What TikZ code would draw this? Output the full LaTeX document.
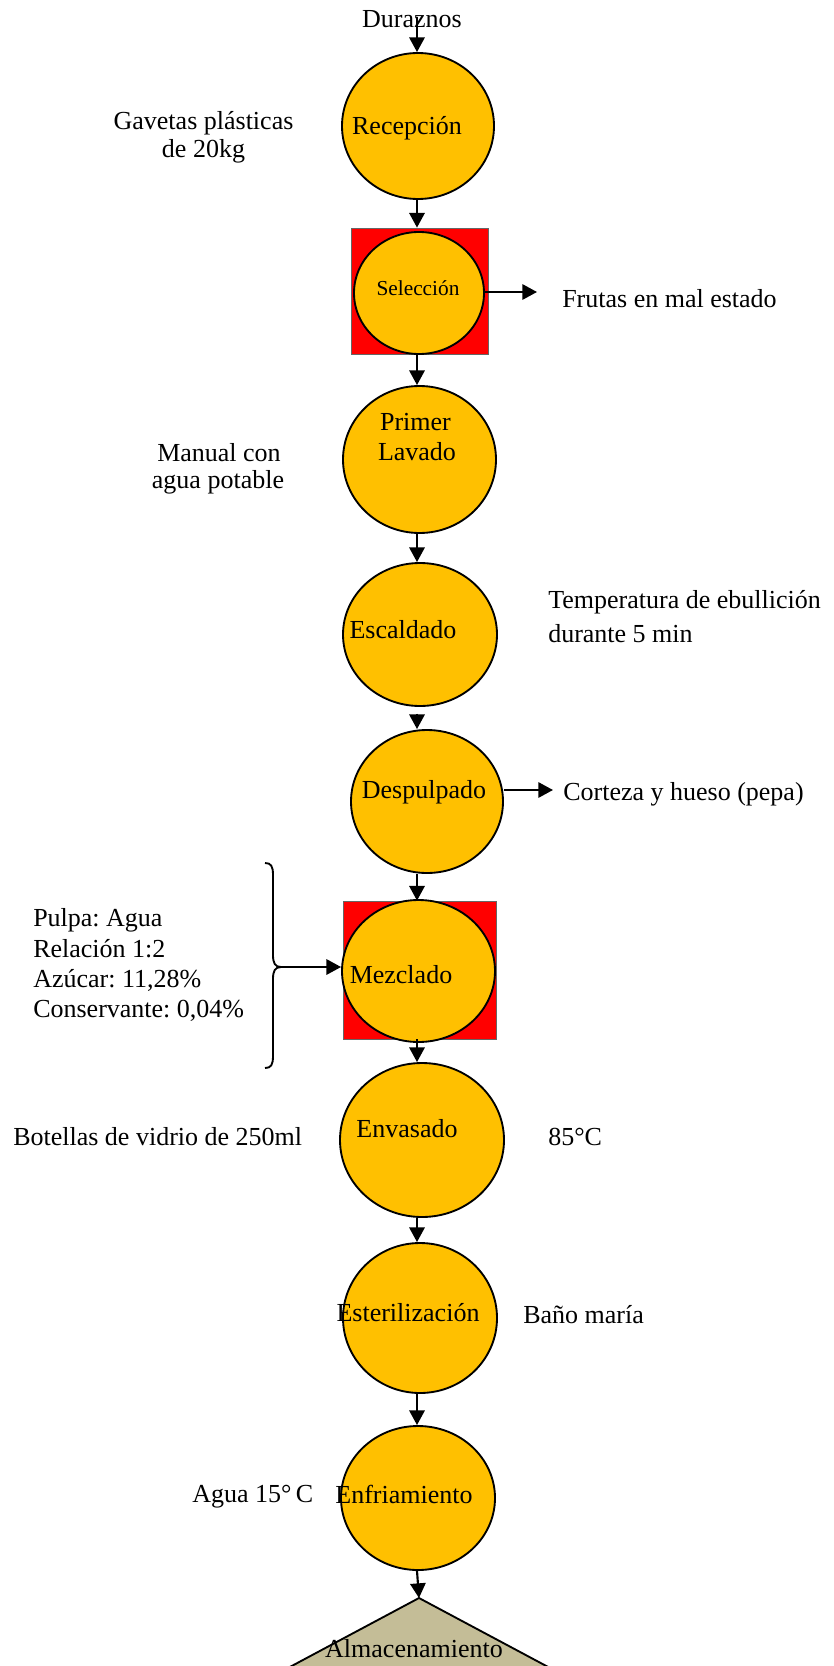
\documentclass[tikz,border=0pt]{standalone}
\usepackage{fontspec}
\setmainfont{Liberation Serif}
\frenchspacing
\usetikzlibrary{shapes.geometric,arrows.meta}
\definecolor{stepfill}{HTML}{FFC000}
\definecolor{boxred}{HTML}{FF0000}
\definecolor{tanfill}{HTML}{C4BD97}
\begin{document}
\begin{tikzpicture}[x=0.75pt,y=-0.75pt,
  stage/.style={ellipse,draw=black,line width=1.4pt,fill=stepfill,inner sep=0pt},
  redbox/.style={rectangle,draw=black!60,line width=0.6pt,fill=boxred,inner sep=0pt},
  lbl/.style={inner sep=0pt,font=\fontsize{19.5}{22}\selectfont},
  small/.style={inner sep=0pt,font=\fontsize{16}{18}\selectfont},
  arr/.style={line width=1.6pt,-{Triangle[length=11pt,width=11.5pt]}},
  brace/.style={line width=1.4pt}]
\useasboundingbox[fill=white] (0,0) rectangle (833,1666);

% process stages
\node[stage,minimum width=114pt,minimum height=109.5pt] (rec) at (418,126) {};
\node[redbox,minimum width=102.75pt,minimum height=94.5pt] (selbox) at (419.5,291) {};
\node[stage,minimum width=97.5pt,minimum height=91.5pt] (sel) at (419,293) {};
\node[stage,minimum width=114.75pt,minimum height=110.25pt] (lav) at (419.5,459.5) {};
\node[stage,minimum width=115.5pt,minimum height=107.25pt] (esc) at (420,634.5) {};
\node[stage,minimum width=114pt,minimum height=107.25pt] (desp) at (427,801.5) {};
\node[redbox,minimum width=114.75pt,minimum height=103.5pt] (mezbox) at (419.5,970) {};
\node[stage,minimum width=114.75pt,minimum height=106.5pt] (mez) at (418.5,971) {};
\node[stage,minimum width=123pt,minimum height=115.5pt] (env) at (422,1140) {};
\node[stage,minimum width=115.5pt,minimum height=112.5pt] (est) at (420,1318) {};
\node[stage,minimum width=115.5pt,minimum height=108pt] (enf) at (418,1498) {};

% storage triangle, cut by the page edge
\coordinate (almtop) at (419,1598);
\begin{scope}
  \clip (0,0) rectangle (833,1666);
  \filldraw[fill=tanfill,draw=black,line width=1.4pt] (228,1700) -- (almtop) -- (610,1700) -- cycle;
\end{scope}

% stage labels
\node[lbl,anchor=base] (t-rec) at (407,135) {Recepción};
\node[small,anchor=base] (t-sel) at (418,295) {Selección};
\node[lbl,anchor=base] (t-lav1) at (415.5,430) {Primer};
\node[lbl,anchor=base] (t-lav2) at (417,460) {Lavado};
\node[lbl,anchor=base] (t-esc) at (403,638) {Escaldado};
\node[lbl,anchor=base] (t-desp) at (424,798) {Despulpado};
\node[lbl,anchor=base] (t-mez) at (401,983) {Mezclado};
\node[lbl,anchor=base] (t-env) at (407,1137) {Envasado};
\node[lbl,anchor=base] (t-est) at (408,1321) {Esterilización};
\node[lbl,anchor=base] (t-enf) at (404,1503) {Enfriamiento};
\node[lbl,anchor=base] (t-alm) at (414,1657) {Almacenamiento};

% side notes
\node[lbl,anchor=base] (dur) at (412,28) {Duraznos};
\node[lbl,anchor=base] (gav1) at (203.5,130) {Gavetas plásticas};
\node[lbl,anchor=base] (gav2) at (203.5,158) {de 20kg};
\node[lbl,anchor=base] (man1) at (219,461) {Manual con};
\node[lbl,anchor=base] (man2) at (218,488) {agua potable};
\node[lbl,anchor=base west] (frutas) at (562,307) {Frutas en mal estado};
\node[lbl,anchor=base west] (temp1) at (548,608) {Temperatura de ebullición};
\node[lbl,anchor=base west] (temp2) at (548,642) {durante 5 min};
\node[lbl,anchor=base west] (corteza) at (563,800) {Corteza y hueso (pepa)};
\node[lbl,anchor=base west] (mix1) at (33,926) {Pulpa: Agua};
\node[lbl,anchor=base west] (mix2) at (33,957) {Relación 1:2};
\node[lbl,anchor=base west] (mix3) at (33,987) {Azúcar: 11,28\%};
\node[lbl,anchor=base west] (mix4) at (33,1017) {Conservante: 0,04\%};
\node[lbl,anchor=base west] (bot) at (13,1145) {Botellas de vidrio de 250ml};
\node[lbl,anchor=base west] (temp85) at (548,1145) {85°C};
\node[lbl,anchor=base west] (bano) at (523,1323) {Baño maría};
\node[lbl,anchor=base west] (agua15) at (192,1502) {Agua 15°\,C};

% main flow
\coordinate (axis) at (417,0);
\coordinate (durin) at (417,17);
\draw[arr] (durin) -- (rec.north -| axis);
\draw[arr] (rec.south -| axis) -- (selbox.north -| axis);
\draw[arr] (selbox.south -| axis) -- (lav.north -| axis);
\draw[arr] (lav.south -| axis) -- (esc.north -| axis);
\draw[arr] ([yshift=-5pt]esc.south -| axis) -- (desp.north -| axis);
\draw[arr] (desp.south -| axis) -- (mezbox.north -| axis);
\draw[arr] (mezbox.south -| axis) -- (env.north -| axis);
\draw[arr] (env.south -| axis) -- (est.north -| axis);
\draw[arr] (est.south -| axis) -- (enf.north -| axis);
\draw[arr] (enf.south -| axis) -- (almtop);

% outputs
\coordinate (selout) at (537,292);
\draw[arr] (sel.east |- selout) -- (selout);
\coordinate (despout) at (553,790);
\draw[arr] (desp.east |- despout) -- (despout);

% ingredient brace
\coordinate (bracetip) at (281,967);
\draw[brace] (265,863) .. controls (271,863) and (273,866) .. (273,875)
  -- (273,955) .. controls (273,963) and (275,967) .. (bracetip)
  .. controls (275,967) and (273,971) .. (273,979)
  -- (273,1056) .. controls (273,1065) and (271,1068) .. (265,1068);
\draw[arr] (bracetip) -- (mez.west |- bracetip);
\end{tikzpicture}
\end{document}
